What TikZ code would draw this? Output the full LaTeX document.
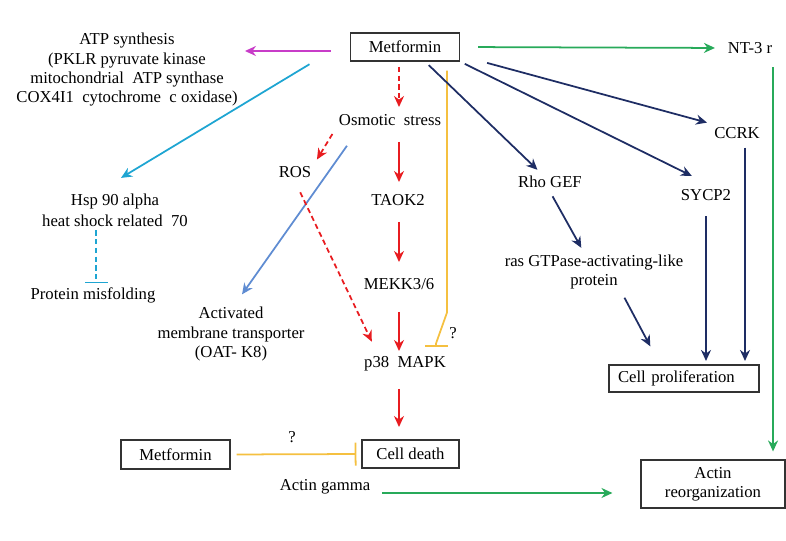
\documentclass[tikz,border=0pt]{standalone}
\usepackage{fontspec}
\setmainfont{Liberation Serif}
\usetikzlibrary{arrows.meta, calc}
\definecolor{mymagenta}{RGB}{200,60,200}
\definecolor{mycyan}{RGB}{30,165,210}
\definecolor{mysteel}{RGB}{95,140,210}
\definecolor{myred}{RGB}{232,28,32}
\definecolor{myyellow}{RGB}{245,192,64}
\definecolor{mygreen}{RGB}{40,170,90}
\definecolor{mynavy}{RGB}{30,45,100}
\tikzset{
  lbl/.style={align=center, inner sep=2pt, font=\fontsize{9.5}{11}\selectfont},
  box/.style={lbl, rectangle, draw=black!80, line width=0.6pt},
  arrow/.style={-{Stealth[length=2.2mm, width=2mm]}, line width=1pt,
    shorten <=3pt, shorten >=2pt},
  redarrow/.style={-{Stealth[length=2.2mm, width=2mm]}, line width=1pt, color=myred},
  dasharrow/.style={arrow, color=myred, dash pattern=on 3pt off 2pt},
  navyarrow/.style={arrow, color=mynavy},
  greenarrow/.style={arrow, color=mygreen},
  inhibit/.style={-{Bar[width=4.6mm]}, line width=1pt}
}

\begin{document}
\begin{tikzpicture}
  \useasboundingbox (0,0) rectangle (15.72,10.82);
  \coordinate (col) at (7.98,0);

  % Nodes
  \node[box, minimum width=2.18cm, minimum height=0.56cm] (met) at (8.10,9.88) {Metformin};
  \node[lbl] (atp) at (2.54,9.42) {ATP synthesis\\(PKLR pyruvate kinase\\mitochondrial\ \ ATP synthase\\COX4I1\ \ cytochrome\ \ c oxidase)};
  \node[lbl] (nt3) at (15.00,9.86) {NT-3 r};
  \node[lbl] (osm) at (7.80,8.42) {Osmotic\ \ stress};
  \node[lbl] (ros) at (5.90,7.38) {ROS};
  \node[lbl] (hsp) at (2.30,6.62) {Hsp 90 alpha\\[1pt]heat shock related\ \ 70};
  \node[lbl] (mis) at (1.86,4.92) {Protein misfolding};
  \node[lbl] (taok) at (7.96,6.82) {TAOK2};
  \node[lbl] (mekk) at (7.98,5.14) {MEKK3/6};
  \node[lbl] (p38) at (8.10,3.54) {p38\ \ MAPK};
  \node[lbl] (amt) at (4.62,4.14) {Activated\\membrane transporter\\(OAT- K8)};
  \node[lbl] (rho) at (11.00,7.18) {Rho GEF};
  \node[lbl] (ccrk) at (14.74,8.16) {CCRK};
  \node[lbl] (sycp) at (14.12,6.92) {SYCP2};
  \node[lbl] (ras) at (11.88,5.38) {ras GTPase-activating-like\\protein};
  \node[box, align=left, text width=2.64cm, inner xsep=0.18cm, minimum height=0.54cm] (prolif) at (13.68,3.25) {Cell proliferation};
  \node[box, minimum width=2.18cm, minimum height=0.58cm] (met2) at (3.51,1.73) {Metformin};
  \node[box, minimum width=1.94cm, minimum height=0.56cm] (death) at (8.21,1.74) {Cell death};
  \node[lbl] (gamma) at (6.50,1.08) {Actin gamma};
  \node[box, minimum width=2.88cm, minimum height=0.96cm] (reorg) at (14.26,1.14) {Actin\\reorganization};
  \node[lbl] (q1) at (9.06,4.16) {?};
  \node[lbl] (q2) at (5.84,2.08) {?};

  % Connections
  \draw[arrow, mymagenta, shorten <=0.38cm] ([yshift=-0.08cm]met.west) -- ([yshift=-0.08cm]met.west -| atp.east);
  \draw[arrow, mycyan] ([xshift=-0.72cm]met.south west) -- ([xshift=0.06cm,yshift=0.2cm]hsp.north);
  \draw[inhibit, mycyan, dash pattern=on 3pt off 2pt] ([xshift=0.06cm]mis.north |- hsp.south) -- ([xshift=0.06cm]mis.north);
  \draw[dasharrow] ([xshift=-0.12cm]met.south) -- ([xshift=-0.12cm]met.south |- osm.north);
  \draw[dasharrow] (osm.south west) -- (ros.north east);
  \draw[arrow, mysteel] ([xshift=-0.8cm,yshift=-0.24cm]osm.south) -- ([xshift=0.18cm,yshift=0.12cm]amt.north);
  \draw[dasharrow, shorten <=0.24cm] (ros.south) -- ([xshift=0.26cm,yshift=0.16cm]p38.north west);
  \draw[redarrow] ([yshift=-0.44cm]osm -| col) -- ([yshift=0.36cm]taok -| col);
  \draw[redarrow] ([yshift=-0.44cm]taok -| col) -- ([yshift=0.44cm]mekk -| col);
  \draw[redarrow] ([yshift=-0.56cm]mekk -| col) -- ([yshift=0.26cm]p38 -| col);
  \draw[redarrow] ([yshift=-0.5cm]p38 -| col) -- ([yshift=0.54cm]death -| col);
  \draw[inhibit, myyellow] ([xshift=0.84cm,yshift=-0.18cm]met.south) -- ++(0,-4.84) -- ++(-0.22,-0.62) -- ++(0,-0.06);
  \draw[inhibit, myyellow, shorten <=0.12cm, shorten >=0.1cm] (met2.east) -- (death.west);
  \draw[greenarrow, shorten <=0.36cm, shorten >=0.18cm] (met.east) -- (nt3.west);
  \draw[greenarrow, shorten <=0.2cm, shorten >=0.16cm] ([xshift=-0.06cm]nt3.south east) -- ([xshift=-0.06cm]nt3.south east |- reorg.north);
  \draw[greenarrow, shorten <=0.16cm, shorten >=0.56cm] ([yshift=-0.12cm]gamma.east) -- ([yshift=-0.12cm]gamma.east -| reorg.west);
  \draw[navyarrow] ([xshift=0.4cm]met.south) -- ([xshift=-0.2cm]rho.north);
  \draw[navyarrow] (met.south east) -- ([xshift=-0.22cm,yshift=0.16cm]sycp.north);
  \draw[navyarrow] ([xshift=0.44cm]met.south east) -- (ccrk.north west);
  \draw[navyarrow] (rho.south) -- ([xshift=-0.22cm]ras.north);
  \draw[navyarrow] ([xshift=0.56cm]ras.south) -- ([xshift=-0.64cm,yshift=0.3cm]prolif.north);
  \draw[navyarrow, shorten <=0.24cm] (sycp.south) -- (sycp.south |- prolif.north);
  \draw[navyarrow] ([xshift=0.16cm]ccrk.south) -- ([xshift=0.16cm]ccrk.south |- prolif.north);
\end{tikzpicture}
\end{document}
